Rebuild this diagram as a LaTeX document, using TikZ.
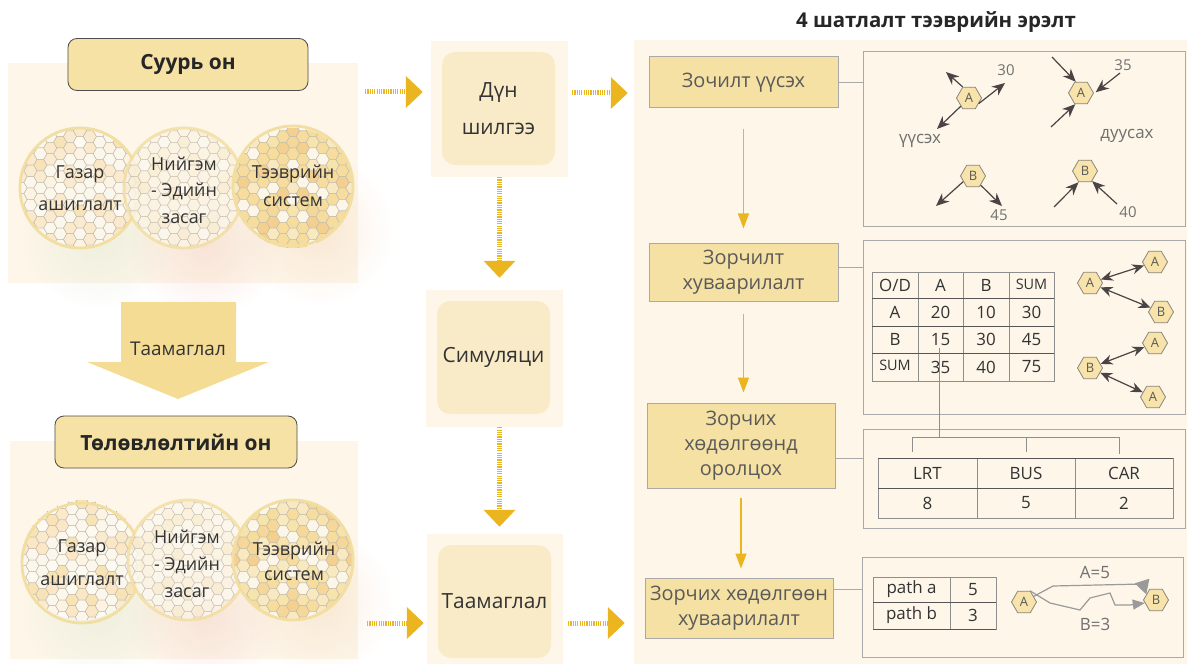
\documentclass[tikz,border=0pt]{standalone}
\usepackage{fontspec}
\setmainfont{Open Sans}
\usetikzlibrary{shapes.geometric,arrows.meta,calc,fadings}

\definecolor{paper}{HTML}{FDF6E9}
\definecolor{gold}{HTML}{EBB520}
\definecolor{goldlight}{HTML}{F4DC95}
\definecolor{headfill}{HTML}{F6E2A5}
\definecolor{stepfill}{HTML}{F5E1A3}
\definecolor{innerbox}{HTML}{FAEBC8}
\definecolor{ink}{HTML}{333333}
\definecolor{softink}{HTML}{5A5A5A}
\definecolor{greyink}{HTML}{707070}
\definecolor{frame}{HTML}{A9A9A9}
\definecolor{rule}{HTML}{8E8E8E}
\definecolor{darkrule}{HTML}{555555}
\definecolor{hexfill}{HTML}{F8E4AA}
\definecolor{hexedge}{HTML}{8A8580}
\definecolor{arrowink}{HTML}{4A4444}
\definecolor{pathink}{HTML}{9A9A9A}
\definecolor{ringcol}{HTML}{F3DEA2}
\definecolor{cellline}{HTML}{C4BCAC}
\definecolor{glowgreen}{HTML}{DCE8D0}
\definecolor{glowpink}{HTML}{F4CCC2}
\definecolor{gloworange}{HTML}{F6D8BC}

% honeycomb palettes: land use (L), socio-economy (M), transport (R)
\definecolor{hL0}{HTML}{FCF7EC}\definecolor{hL1}{HTML}{FCF7EC}\definecolor{hL2}{HTML}{FBE9CC}
\definecolor{hL3}{HTML}{FCF7EC}\definecolor{hL4}{HTML}{FAEBD0}\definecolor{hL5}{HTML}{FDFAF2}
\definecolor{hL6}{HTML}{FCF7EC}\definecolor{hL7}{HTML}{F8E3B6}\definecolor{hL8}{HTML}{FCF3E2}
\definecolor{hL9}{HTML}{FBE6C6}
\definecolor{hM0}{HTML}{FBF4E4}\definecolor{hM1}{HTML}{FCF8EE}\definecolor{hM2}{HTML}{FBF4E4}
\definecolor{hM3}{HTML}{F9EDD3}\definecolor{hM4}{HTML}{FBF4E4}\definecolor{hM5}{HTML}{FCF8EE}
\definecolor{hM6}{HTML}{FBF1DC}\definecolor{hM7}{HTML}{FBF4E4}\definecolor{hM8}{HTML}{F9EDD3}
\definecolor{hM9}{HTML}{FCF8EE}
\definecolor{hR0}{HTML}{F6DD9E}\definecolor{hR1}{HTML}{F9E9C0}\definecolor{hR2}{HTML}{F6DD9E}
\definecolor{hR3}{HTML}{FCF6E8}\definecolor{hR4}{HTML}{F3D08F}\definecolor{hR5}{HTML}{F7E3AC}
\definecolor{hR6}{HTML}{F6DD9E}\definecolor{hR7}{HTML}{F5D79A}\definecolor{hR8}{HTML}{FCF6E8}
\definecolor{hR9}{HTML}{F9E9C0}

\tikzfading[name=glowfade, inner color=transparent!55, outer color=transparent!100]

\newcommand\honeycomb[4]{% centre x, centre y, palette prefix, seed
  \begin{scope}
    \clip (#1,#2) circle (60);
    \foreach \i in {-7,...,7}{
      \foreach \j in {-6,...,6}{
        \pgfmathsetmacro\hx{#1+9.9*\i}
        \pgfmathsetmacro\hy{#2+11.43*\j+5.715*mod(abs(\i),2)}
        \pgfmathtruncatemacro\hk{mod(abs(3*\i*\i+7*\j+5*\i*\j+#4),10)}
        \filldraw[fill=#3\hk, draw=cellline, line width=0.5bp]
          (\hx,\hy) +(0:6.6) -- +(60:6.6) -- +(120:6.6) -- +(180:6.6)
          -- +(240:6.6) -- +(300:6.6) -- cycle;
      }
    }
  \end{scope}
}

\tikzset{
  bgpanel/.style={rectangle, fill=paper, draw=none, inner sep=0},
  headbox/.style={rectangle, rounded corners=9bp, fill=headfill, draw=black!70,
    line width=0.8bp, font=\fontsize{21}{24}\selectfont\bfseries, text=black!85,
    minimum height=52bp, inner sep=0},
  ringc/.style={circle, minimum size=120bp, draw=ringcol, line width=2.8bp,
    inner sep=0, align=center, text=ink},
  outerbox/.style={rectangle, fill=paper, inner sep=0},
  innerround/.style={rectangle, rounded corners=13bp, fill=innerbox, inner sep=0,
    minimum width=113bp, minimum height=113bp, align=center, text=ink,
    font=\fontsize{21}{37}\selectfont},
  flow/.style={draw=gold, line width=5bp, dash pattern=on 1.2bp off 1.1bp,
    -{Triangle[length=17bp,width=31bp]}},
  stepbox/.style={rectangle, fill=stepfill, draw=frame, line width=1bp, inner sep=0,
    align=center, text=softink, font=\fontsize{20}{25}\selectfont},
  stepflow/.style={draw=gold, line width=1.3bp, -{Triangle[length=15bp,width=11bp]}},
  link/.style={draw=frame, line width=1bp},
  detail/.style={rectangle, fill=paper, draw=frame, line width=1bp, inner sep=0},
  hexn/.style={regular polygon, regular polygon sides=6, minimum size=25bp,
    inner sep=0, fill=hexfill, draw=hexedge, line width=0.8bp, text=softink,
    font=\fontsize{13}{13}\selectfont},
  darr/.style={draw=arrowink, line width=1.2bp, -{Stealth[length=13bp,width=11bp]}},
  dboth/.style={draw=arrowink, line width=1.2bp,
    {Stealth[length=12bp,width=10bp]}-{Stealth[length=12bp,width=10bp]}},
  numlab/.style={text=greyink, font=\fontsize{15}{15}\selectfont, inner sep=0},
  wordlab/.style={text=greyink, font=\fontsize{17}{17}\selectfont, inner sep=0},
  cell/.style={text=ink, font=\fontsize{17}{17}\selectfont, inner sep=0},
  smallcell/.style={text=ink, font=\fontsize{14.5}{15}\selectfont, inner sep=0},
  gridline/.style={draw=rule, line width=1bp},
  boldline/.style={draw=darkrule, line width=1bp},
  routeline/.style={draw=pathink, line width=1.2bp},
}

\begin{document}
\begin{tikzpicture}[x=1bp, y=-1bp]
\useasboundingbox (0,0) rectangle (1187,664);

% ---------- left column: base year and plan year ----------
\node[bgpanel, minimum width=350bp, minimum height=220bp] (basebg) at (183,173) {};
\node[bgpanel, minimum width=348bp, minimum height=218bp] (planbg) at (184,550) {};

% soft coloured glows beneath the circles
\foreach \gy in {0,372}{
  \fill[glowgreen, path fading=glowfade] (98,\gy+236) circle (76);
  \fill[glowpink, path fading=glowfade] (205,\gy+244) circle (76);
  \fill[gloworange, path fading=glowfade] (318,\gy+230) circle (76);
}

\node[headbox, minimum width=240bp] (basehead) at (188,64.5) {Суурь он};

\honeycomb{80}{188}{hL}{3}
\node[ringc, font=\fontsize{18}{32}\selectfont] (land1) at (80,188) {Газар\\ашиглалт};
\begin{scope}[transparency group, opacity=0.85]
\honeycomb{184}{188}{hM}{5}
\node[ringc] (soc1) at (184,188) {};
\end{scope}
\node[text=ink, align=center, font=\fontsize{18}{26.5}\selectfont] (soc1t) at (184,190) {Нийгэм\\- Эдийн\\засаг};
\honeycomb{293}{188}{hR}{1}
\node[ringc, font=\fontsize{18}{28}\selectfont] (trans1) at (293,186) {};
\node[text=ink, align=center, font=\fontsize{18}{28}\selectfont] (trans1t) at (293,186) {Тээврийн\\систем};

% forecast arrow between the two years
\fill[goldlight] (121,302) -- (236,302) -- (236,362) -- (269,362) -- (178,399)
  -- (87,362) -- (121,362) -- cycle;
\node[text=ink, font=\fontsize{19}{19}\selectfont] (forecast) at (178,349) {Таамаглал};

\node[headbox, minimum width=242bp] (planhead) at (176,442) {Төлөвлөлтийн он};

\honeycomb{82}{560}{hL}{8}
\node[ringc, font=\fontsize{18}{33}\selectfont] (land2) at (82,563) {Газар\\ашиглалт};
\begin{scope}[transparency group, opacity=0.85]
\honeycomb{188}{560}{hM}{2}
\node[ringc] (soc2) at (188,560) {};
\end{scope}
\node[text=ink, align=center, font=\fontsize{18}{27}\selectfont] (soc2t) at (187,564) {Нийгэм\\- Эдийн\\засаг};
\honeycomb{293}{560}{hR}{6}
\node[ringc] (trans2) at (293,560) {};
\node[text=ink, align=center, font=\fontsize{18}{25}\selectfont] (trans2t) at (294,561) {Тээврийн\\систем};

% ---------- middle column ----------
\node[outerbox, minimum width=137bp, minimum height=136bp] (dunO) at (499.5,109) {};
\node[innerround] (dun) at (498.5,108.5) {Дүн\\шилгээ};
\node[outerbox, minimum width=137bp, minimum height=137bp] (simO) at (494.5,358.5) {};
\node[innerround] (sim) at (493.5,357.5) {Симуляци};
\node[outerbox, minimum width=136bp, minimum height=130bp] (taO) at (495,599) {};
\node[innerround] (ta) at (494.5,601.5) {Таамаглал};

% ---------- right column: four step model ----------
\node[bgpanel, minimum width=553bp, minimum height=624bp] (rbg) at (910.5,352) {};
\node[text=black!85, font=\fontsize{20.5}{21}\selectfont\bfseries] (title) at (936,22)
  {4 шатлалт тээврийн эрэлт};

\node[stepbox, minimum width=189bp, minimum height=51bp] (sA) at (743.5,82.5) {Зочилт үүсэх};
\node[stepbox, minimum width=189bp, minimum height=58bp] (sB) at (743.5,272) {Зорчилт\\хуваарилалт};
\node[stepbox, minimum width=188bp, minimum height=85bp] (sC) at (741,445.5) {Зорчих\\хөдөлгөөнд\\оролцох};
\node[stepbox, minimum width=188bp, minimum height=60bp] (sD) at (739,608) {Зорчих хөдөлгөөн\\хуваарилалт};

\draw[stepflow, shorten <=21bp, shorten >=14bp] (sA.south) -- (sB.north);
\draw[stepflow, shorten <=12bp, shorten >=10bp] (sB.south) -- (sB.south |- sC.north);
\draw[stepflow, shorten <=9bp, shorten >=9bp] (sC.south) -- (sC.south |- sD.north);

\node[detail, minimum width=322bp, minimum height=174bp] (p1) at (1024,139) {};
\node[detail, minimum width=322bp, minimum height=173bp] (p2) at (1024,327.5) {};
\node[detail, minimum width=322bp, minimum height=99bp] (p3) at (1024,478.5) {};
\node[detail, minimum width=321bp, minimum height=100bp] (p4) at (1022.5,607) {};

\draw[link] (sA.east) -- (sA.east -| p1.west);
\coordinate (lB) at ($(sB.north east)!0.43!(sB.south east)$);
\draw[link] (lB) -- (lB -| p2.west);
\coordinate (lC) at ($(sC.north east)!0.65!(sC.south east)$);
\draw[link] (lC) -- (lC -| p3.west);
\coordinate (lD) at ($(sD.north east)!0.2!(sD.south east)$);
\draw[link] (lD) -- (lD -| p4.west);

% panel 1: trip generation
\node[hexn] (gA) at (969,98) {A};
\node[hexn] (aA) at (1081,93) {A};
\node[hexn] (gB) at (973,176) {B};
\node[hexn] (aB) at (1085,171) {B};
\coordinate (gA1) at (946,72);
\coordinate (gA2) at (937,129);
\coordinate (gA3) at (1005,83);
\coordinate (aA1) at (1052,57);
\coordinate (aA2) at (1120,73);
\coordinate (aA3) at (1051,127);
\coordinate (gB1) at (936,206);
\coordinate (gB2) at (1002,206);
\coordinate (aB1) at (1054,207);
\coordinate (aB2) at (1117,204);
\draw[darr] (gA.120) -- (gA1);
\draw[darr] (gA.225) -- (gA2);
\draw[darr] (gA.-30) -- (gA3);
\draw[darr] (aA1) -- (aA.115);
\draw[darr, shorten >=3bp] (aA2) -- (aA.-5);
\draw[darr] (aA3) -- (aA.243);
\draw[darr] (gB.210) -- (gB1);
\draw[darr] (gB.-50) -- (gB2);
\draw[darr] (aB1) -- (aB.240);
\draw[darr] (aB2) -- (aB.-55);
\node[numlab] (n30) at (1006,70) {30};
\node[numlab] (n35) at (1123,65) {35};
\node[numlab] (n45) at (999,215) {45};
\node[numlab] (n40) at (1128,212) {40};
\node[wordlab] (gen) at (920,141) {үүсэх};
\node[wordlab] (att) at (1127,136) {дуусах};

% panel 2: trip distribution
\draw[gridline] (872,272) rectangle (1054,381);
\foreach \vx in {918,963,1009} \draw[gridline] (\vx,272) -- (\vx,381);
\foreach \hy in {298,326,353} \draw[boldline] (872,\hy) -- (1054,\hy);
\foreach \txt/\cx/\cy/\nm in {{O/D}/895/285/t00, A/940.5/285/t01, B/986/285/t02,
    A/895/312/t10, 20/940.5/312/t11, 10/986/312/t12, 30/1031.5/312/t13,
    B/895/339.5/t20, 15/940.5/339.5/t21, 30/986/339.5/t22, 45/1031.5/339.5/t23,
    35/940.5/367/t31, 40/986/367/t32, 75/1031.5/367/t33}
  \node[cell] (\nm) at (\cx,\cy) {\txt};
\node[smallcell] (t03) at (1031.5,284) {SUM};
\node[smallcell] (t30) at (895,365) {SUM};

\node[hexn] (dA) at (1090,283) {A};
\node[hexn] (dA2) at (1155,262) {A};
\node[hexn] (dB2) at (1161,312) {B};
\node[hexn] (dB) at (1090,368) {B};
\node[hexn] (dA3) at (1155,343) {A};
\node[hexn] (dA4) at (1153,397) {A};
\draw[dboth] (dA) -- (dA2);
\draw[dboth] (dA) -- (dB2);
\draw[dboth] (dB) -- (dA3);
\draw[dboth] (dB) -- (dA4);

% panel 3: modal split
\coordinate (stem) at (939,348);
\coordinate (fork) at (939,437);
\draw[gridline] (stem) -- (fork);
\draw[gridline] (912,452) -- (912,437) -- (1119,437) -- (1119,454);
\draw[gridline] (1026,437) -- (1026,452);
\draw[gridline] (878,458) rectangle (1173,518);
\foreach \vx in {977,1075} \draw[gridline] (\vx,458) -- (\vx,518);
\draw[boldline] (878,458) -- (1173,458);
\draw[boldline] (878,488) -- (1173,488);
\node[cell] (mL) at (927.5,473) {LRT};
\node[cell] (mB) at (1026,473) {BUS};
\node[cell] (mC) at (1124,473) {CAR};
\node[cell] (vL) at (927.5,503) {8};
\node[cell] (vB) at (1026,503) {5};
\node[cell] (vC) at (1124,503) {2};

% panel 4: route assignment
\draw[gridline] (873,577) rectangle (996,629);
\draw[gridline] (950,577) -- (950,629);
\draw[boldline] (873,602) -- (996,602);
\draw[boldline] (873,629) -- (996,629);
\node[cell] (pa) at (911.5,589.5) {path a};
\node[cell] (pav) at (973,589.5) {5};
\node[cell] (pb) at (911.5,615.5) {path b};
\node[cell] (pbv) at (973,615.5) {3};

\node[hexn] (rA) at (1024,602) {A};
\node[hexn] (rB) at (1156,600) {B};
\draw[routeline, -{Triangle[length=14bp,width=15bp]}] (rA.30) -- (1053,586) -- (1143,584) -- (rB.150);
\draw[routeline, -{Triangle[length=12bp,width=10bp]}] (rA.62) -- (1050,603) -- (1080,610)
  -- (1090,598) -- (1098,596) -- (1110,593) -- (1115,605) -- (1130,605) -- (rB.195);
\node[wordlab] (la) at (1095,573) {A=5};
\node[wordlab] (lb) at (1095,624) {B=3};

% ---------- main flow arrows ----------
\coordinate (f1) at (365,92);
\coordinate (f2) at (572,93);
\coordinate (f3) at (367,623);
\coordinate (f4) at (568,623);
\draw[flow, shorten >=8bp] (f1) -- (f1 -| dunO.west);
\draw[flow, shorten >=6bp] (f2) -- (f2 -| rbg.west);
\draw[flow, shorten >=12bp] (dunO.south) -- (dunO.south |- simO.north);
\draw[flow, shorten >=7bp] (dunO.south |- simO.south) -- (dunO.south |- taO.north);
\draw[flow, shorten >=3bp] (f3) -- (f3 -| taO.west);
\draw[flow, shorten >=9bp] (f4) -- (f4 -| rbg.west);
\end{tikzpicture}
\end{document}
